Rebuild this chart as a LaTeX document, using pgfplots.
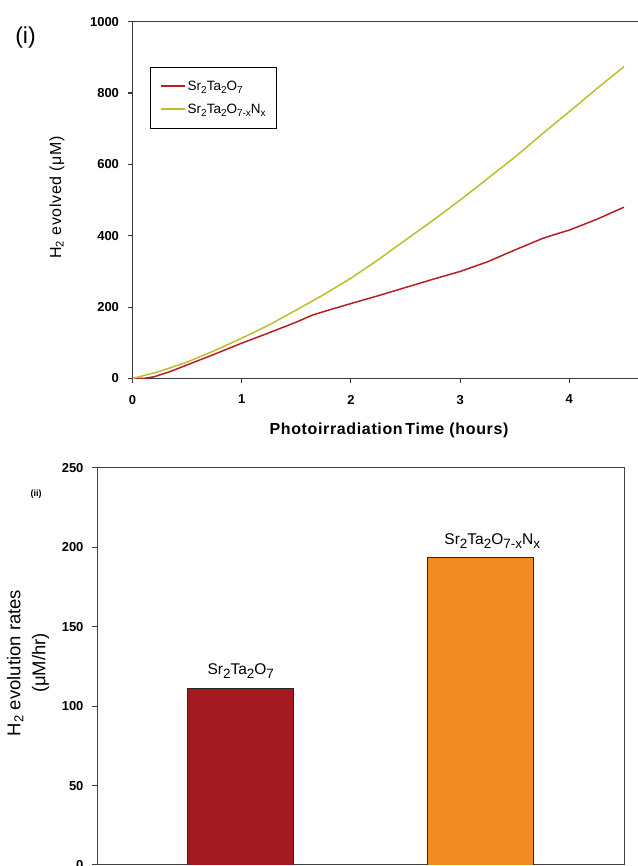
\documentclass[border=0pt]{standalone}
\usepackage{pgfplots}
\pgfplotsset{compat=1.18}
\usepackage{fontspec}
\setmainfont{Liberation Sans}
\setsansfont{Liberation Sans}
\usepackage{graphicx}

\definecolor{redline}{HTML}{B91E23}
\definecolor{yelline}{HTML}{BEBE2C}
\definecolor{redbar}{HTML}{A31B20}
\definecolor{orbar}{HTML}{F28C22}
\definecolor{axgray}{HTML}{3A3A3A}

\newcommand{\bsub}[1]{\raisebox{-0.45ex}{\fontsize{13.5}{13.5}\selectfont #1}}
\newcommand{\lsub}[1]{\raisebox{-0.4ex}{\fontsize{10}{10}\selectfont #1}}

\begin{document}
\begin{tikzpicture}
\useasboundingbox (0,0) rectangle (637pt,866pt);
% ---------- top panel ----------
\begin{axis}[
 at={(132.5pt,487.5pt)}, anchor=south west, scale only axis,
 width=507.5pt, height=356.8pt,
 xmin=0, xmax=4.647, ymin=0, ymax=1000,
 xtick={0,1,2,3,4}, ytick={0,200,...,1000},
 xtick pos=bottom, ytick pos=left, tick align=outside,
 major tick length=5pt,
 axis line style={axgray, line width=1.3pt},
 every tick/.style={axgray, line width=1.1pt},
 ticklabel style={font=\bfseries\fontsize{13}{15}\selectfont},
 xticklabel style={yshift=-8pt},
 yticklabel style={xshift=-5pt},
 /pgf/number format/assume math mode=true,
 /pgf/number format/set thousands separator={},
 legend style={at={(0.0345,0.874)}, anchor=north west, draw=black, line width=1pt,
   font=\fontsize{13.5}{15}\selectfont, row sep=8pt, inner xsep=9pt, inner ysep=12pt},
 legend cell align=left,
 legend image code/.code={\draw[#1] (0pt,0.6pt) -- (24pt,0.6pt);},
]
\addlegendimage{draw=redline, line width=2pt}
\addlegendentry{Sr\lsub{2}Ta\lsub{2}O\lsub{7}}
\addlegendimage{draw=yelline, line width=2.2pt}
\addlegendentry{Sr\lsub{2}Ta\lsub{2}O\lsub{7-x}N\lsub{x}}
\addplot[redline, line width=1.5pt, forget plot] coordinates {
(0,0) (0.1,0) (0.2,5) (0.35,20) (0.5,38) (0.75,68) (1,99) (1.25,128) (1.5,158)
(1.65,178) (1.8,192) (2,210) (2.25,232) (2.5,255) (2.75,278) (3,300) (3.25,327)
(3.5,360) (3.75,392) (3.85,402) (4,416) (4.25,446) (4.5,480)};
\addplot[yelline, line width=1.5pt, forget plot] coordinates {
(0,0) (0.25,20) (0.5,46) (0.75,78) (1,113) (1.25,150) (1.5,192) (1.75,235)
(2,281) (2.25,333) (2.5,388) (2.75,443) (3,500) (3.25,560) (3.5,620) (3.75,685)
(4,748) (4.25,812) (4.5,874)};
\end{axis}
\node at (25.5pt,828.5pt) {\fontsize{23}{26}\selectfont (i)};
\node[rotate=90] at (57pt,668.5pt) {\fontsize{16}{19}\selectfont\addfontfeature{LetterSpace=4}H\textsubscript{2} evolved (μM)};
\node at (389pt,436pt) {\bfseries\fontsize{16}{19}\selectfont\addfontfeature{LetterSpace=4}Photoirradiation\,Time (hours)};
% ---------- bottom panel ----------
\begin{axis}[
 at={(97pt,1pt)}, anchor=south west, scale only axis,
 width=527pt, height=397pt,
 xmin=0.4, xmax=2.6, ymin=0, ymax=250,
 xtick=\empty, ytick={0,50,...,250},
 ytick pos=left, tick align=outside, major tick length=5pt,
 axis line style={black!75, line width=1pt},
 every tick/.style={black!75, line width=1pt},
 ticklabel style={font=\bfseries\fontsize{13}{15}\selectfont},
 yticklabel style={xshift=-5pt},
 /pgf/number format/assume math mode=true,
 nodes near coords, point meta=explicit symbolic,
 nodes near coords style={anchor=center, yshift=17pt, font=\fontsize{15.5}{17}\selectfont, black},
]
\addplot[ybar, bar width=106pt, bar shift=0pt, fill=redbar, draw=black!85, line width=0.8pt]
 coordinates {(1,111.5) [Sr\bsub{2}Ta\bsub{2}O\bsub{7}]};
\addplot[ybar, bar width=106pt, bar shift=0pt, fill=orbar, draw=black!85, line width=0.8pt,
 nodes near coords style={xshift=12pt}]
 coordinates {(2,193.4) [Sr\bsub{2}Ta\bsub{2}O\bsub{7-x}N\bsub{x}]};
\end{axis}
\node at (36pt,372pt) {\bfseries\fontsize{9}{10}\selectfont (ii)};
\node[rotate=90, align=center, font=\fontsize{18.5}{25}\selectfont] at (28pt,203pt) {H\textsubscript{2} evolution rates\\(μM/hr)};
\end{tikzpicture}
\end{document}
